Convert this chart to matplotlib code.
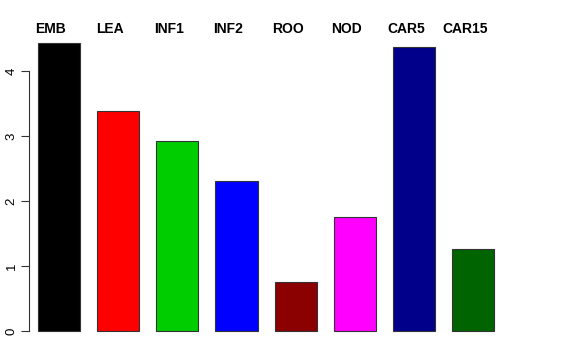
import matplotlib
matplotlib.use('Agg')
import matplotlib.pyplot as plt
import matplotlib.transforms as mtransforms
import numpy as np

# Values
categories = ['EMB', 'LEA', 'INF1', 'INF2', 'ROO', 'NOD', 'CAR5', 'CAR15']
values = [4.43, 3.39, 2.93, 2.31, 0.75, 1.76, 4.37, 1.26]
colors = ['#000000', '#FF0000', '#00CD00', '#0000FF',
          '#8B0000', '#FF00FF', '#00008B', '#006400']
yticks = [0, 1, 2, 3, 4]

plt.rcParams['font.family'] = ['Liberation Sans', 'DejaVu Sans']

W, H = 576, 360
fig = plt.figure(figsize=(W / 100, H / 100), dpi=100)

# axes placed in pixel terms: bar pitch ~59.2 px, y unit ~65 px, y=0 at 331 px
x_unit = 59.2
left_px, right_px = 29.3 - 0.3 * x_unit, 29.3 + 8.6 * x_unit
top_px, bot_px = 30, 345
ax = fig.add_axes([left_px / W, 1 - bot_px / H,
                   (right_px - left_px) / W, (bot_px - top_px) / H])

x = np.arange(len(categories)) + 0.5
ax.bar(x, values, width=0.71, color=colors, edgecolor='#333333', linewidth=0.8)

ax.set_xlim(-0.3, 8.6)
ax.set_ylim(-(bot_px - 331) / 65, (331 - top_px) / 65)

for s in ['top', 'right', 'bottom']:
    ax.spines[s].set_visible(False)
ax.spines['left'].set_position(('data', 0))
ax.spines['left'].set_bounds(0, 4)
ax.spines['left'].set_color('#333333')
ax.set_xticks([])
ax.set_yticks(yticks)
ax.set_yticklabels([str(t) for t in yticks], rotation=90, va='center', fontsize=9.5)
ax.tick_params(axis='y', length=6, width=0.8, pad=2.5, color='#333333')

# category names along the top
offset = mtransforms.ScaledTranslation(-8 / 100, 0, fig.dpi_scale_trans)
trans = mtransforms.blended_transform_factory(ax.transData, fig.transFigure) + offset
for xi, name in zip(x, categories):
    ax.text(xi, 1 - 29 / H, name, transform=trans, ha='center', va='center',
            fontsize=10, fontweight='bold')

fig.savefig('out.png', dpi=100)
